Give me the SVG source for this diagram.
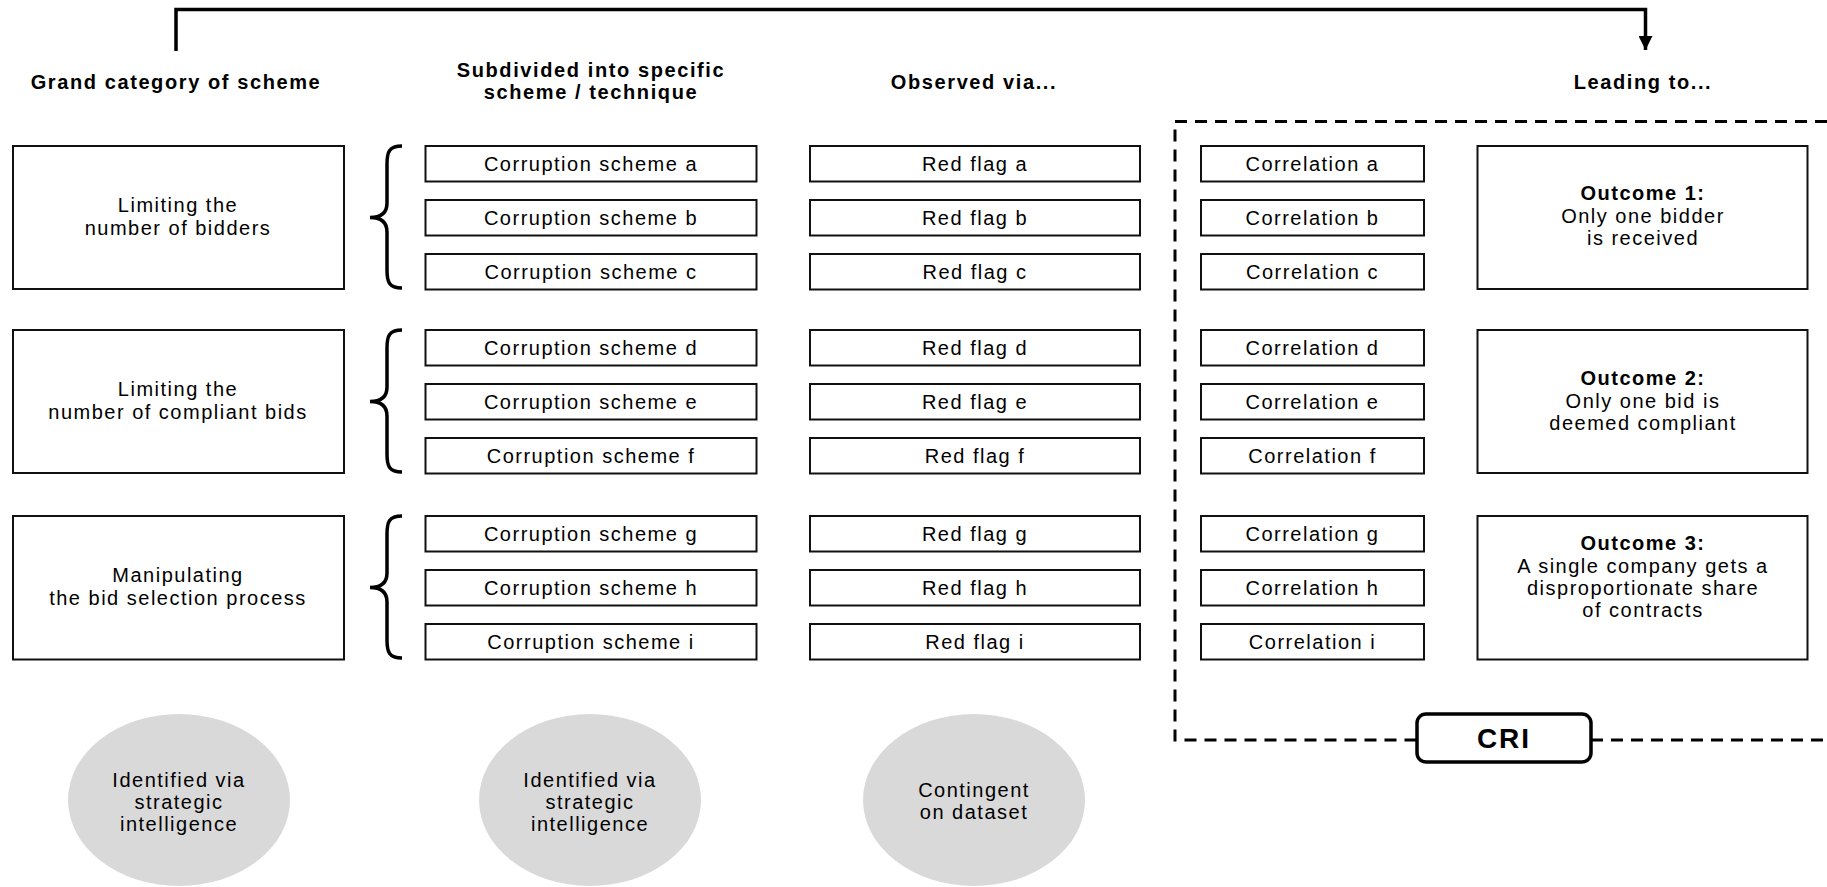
<svg xmlns="http://www.w3.org/2000/svg" width="1827" height="887" viewBox="0 0 1827 887">
<style>
text{font-family:"Liberation Sans",Arial,sans-serif;fill:#000;text-anchor:middle}
.t{font-size:20px;letter-spacing:1.5px}
.h{font-size:20px;font-weight:bold;letter-spacing:1.6px}
.b{font-weight:bold}
.box{fill:#fff;stroke:#111;stroke-width:2}
.br{fill:none;stroke:#000;stroke-width:3.5}
.ell{fill:#d9d9d9;stroke:none}
</style>
<defs>
<marker id="ah" viewBox="0 0 10 10" refX="10" refY="5" markerWidth="4" markerHeight="4" orient="auto" markerUnits="strokeWidth">
<path d="M0,0 L10,5 L0,10 z" fill="#000"/>
</marker>
</defs>
<rect width="1827" height="887" fill="#fff"/>

<g id="connectors">
<path d="M176,51 V9.5 H1645.5 V50" fill="none" stroke="#000" stroke-width="3.5" marker-end="url(#ah)"/>
<path id="cri-frame" d="M1827,121.5 H1175 V740 H1417 M1591,740 H1827" fill="none" stroke="#000" stroke-width="3" stroke-dasharray="12 8"/>
</g>

<g id="headers">
<text class="h" x="176" y="89">Grand category of scheme</text>
<text class="h" x="591" y="77">Subdivided into specific</text>
<text class="h" x="591" y="99">scheme / technique</text>
<text class="h" x="974" y="89">Observed via...</text>
<text class="h" x="1643" y="89">Leading to...</text>
</g>

<g id="cat1"><rect class="box" x="13" y="146" width="331" height="143"/>
<text class="t" x="178" y="212">Limiting the</text><text class="t" x="178" y="235">number of bidders</text></g>
<g id="cat2"><rect class="box" x="13" y="330" width="331" height="143"/>
<text class="t" x="178" y="396">Limiting the</text><text class="t" x="178" y="419">number of compliant bids</text></g>
<g id="cat3"><rect class="box" x="13" y="516" width="331" height="143.5"/>
<text class="t" x="178" y="582">Manipulating</text><text class="t" x="178" y="605">the bid selection process</text></g>

<g id="brackets">
<path class="br" d="M402,146 C389,146 387,152 387,164 V203 C387,213 381,217.5 370,217.5 C381,217.5 387,222 387,232 V270 C387,282 389,288 402,288"/>
<path class="br" d="M402,330 C389,330 387,336 387,348 V387 C387,397 381,401.5 370,401.5 C381,401.5 387,406 387,416 V454 C387,466 389,472 402,472"/>
<path class="br" d="M402,516 C389,516 387,522 387,534 V573 C387,583 381,587.5 370,587.5 C381,587.5 387,592 387,602 V640 C387,652 389,658 402,658"/>
</g>

<g id="scheme-a"><rect class="box" x="425.5" y="146" width="331" height="35.5"/><text class="t" x="591" y="171">Corruption scheme a</text></g>
<g id="scheme-b"><rect class="box" x="425.5" y="200" width="331" height="35.5"/><text class="t" x="591" y="225">Corruption scheme b</text></g>
<g id="scheme-c"><rect class="box" x="425.5" y="254" width="331" height="35.5"/><text class="t" x="591" y="279">Corruption scheme c</text></g>
<g id="scheme-d"><rect class="box" x="425.5" y="330" width="331" height="35.5"/><text class="t" x="591" y="355">Corruption scheme d</text></g>
<g id="scheme-e"><rect class="box" x="425.5" y="384" width="331" height="35.5"/><text class="t" x="591" y="409">Corruption scheme e</text></g>
<g id="scheme-f"><rect class="box" x="425.5" y="438" width="331" height="35.5"/><text class="t" x="591" y="463">Corruption scheme f</text></g>
<g id="scheme-g"><rect class="box" x="425.5" y="516" width="331" height="35.5"/><text class="t" x="591" y="541">Corruption scheme g</text></g>
<g id="scheme-h"><rect class="box" x="425.5" y="570" width="331" height="35.5"/><text class="t" x="591" y="595">Corruption scheme h</text></g>
<g id="scheme-i"><rect class="box" x="425.5" y="624" width="331" height="35.5"/><text class="t" x="591" y="649">Corruption scheme i</text></g>

<g id="flag-a"><rect class="box" x="810" y="146" width="330" height="35.5"/><text class="t" x="975" y="171">Red flag a</text></g>
<g id="flag-b"><rect class="box" x="810" y="200" width="330" height="35.5"/><text class="t" x="975" y="225">Red flag b</text></g>
<g id="flag-c"><rect class="box" x="810" y="254" width="330" height="35.5"/><text class="t" x="975" y="279">Red flag c</text></g>
<g id="flag-d"><rect class="box" x="810" y="330" width="330" height="35.5"/><text class="t" x="975" y="355">Red flag d</text></g>
<g id="flag-e"><rect class="box" x="810" y="384" width="330" height="35.5"/><text class="t" x="975" y="409">Red flag e</text></g>
<g id="flag-f"><rect class="box" x="810" y="438" width="330" height="35.5"/><text class="t" x="975" y="463">Red flag f</text></g>
<g id="flag-g"><rect class="box" x="810" y="516" width="330" height="35.5"/><text class="t" x="975" y="541">Red flag g</text></g>
<g id="flag-h"><rect class="box" x="810" y="570" width="330" height="35.5"/><text class="t" x="975" y="595">Red flag h</text></g>
<g id="flag-i"><rect class="box" x="810" y="624" width="330" height="35.5"/><text class="t" x="975" y="649">Red flag i</text></g>

<g id="corr-a"><rect class="box" x="1201" y="146" width="223" height="35.5"/><text class="t" x="1312.5" y="171">Correlation a</text></g>
<g id="corr-b"><rect class="box" x="1201" y="200" width="223" height="35.5"/><text class="t" x="1312.5" y="225">Correlation b</text></g>
<g id="corr-c"><rect class="box" x="1201" y="254" width="223" height="35.5"/><text class="t" x="1312.5" y="279">Correlation c</text></g>
<g id="corr-d"><rect class="box" x="1201" y="330" width="223" height="35.5"/><text class="t" x="1312.5" y="355">Correlation d</text></g>
<g id="corr-e"><rect class="box" x="1201" y="384" width="223" height="35.5"/><text class="t" x="1312.5" y="409">Correlation e</text></g>
<g id="corr-f"><rect class="box" x="1201" y="438" width="223" height="35.5"/><text class="t" x="1312.5" y="463">Correlation f</text></g>
<g id="corr-g"><rect class="box" x="1201" y="516" width="223" height="35.5"/><text class="t" x="1312.5" y="541">Correlation g</text></g>
<g id="corr-h"><rect class="box" x="1201" y="570" width="223" height="35.5"/><text class="t" x="1312.5" y="595">Correlation h</text></g>
<g id="corr-i"><rect class="box" x="1201" y="624" width="223" height="35.5"/><text class="t" x="1312.5" y="649">Correlation i</text></g>

<g id="outcome1"><rect class="box" x="1477.5" y="146" width="330" height="143"/>
<text class="t b" x="1643" y="200">Outcome 1:</text><text class="t" x="1643" y="223">Only one bidder</text><text class="t" x="1643" y="245">is received</text></g>
<g id="outcome2"><rect class="box" x="1477.5" y="330" width="330" height="143"/>
<text class="t b" x="1643" y="385">Outcome 2:</text><text class="t" x="1643" y="408">Only one bid is</text><text class="t" x="1643" y="430">deemed compliant</text></g>
<g id="outcome3"><rect class="box" x="1477.5" y="516" width="330" height="143.5"/>
<text class="t b" x="1643" y="550">Outcome 3:</text><text class="t" x="1643" y="573">A single company gets a</text><text class="t" x="1643" y="595">disproportionate share</text><text class="t" x="1643" y="617">of contracts</text></g>

<g id="cri"><rect x="1417" y="714" width="174" height="48" rx="9" fill="#fff" stroke="#000" stroke-width="3.5"/>
<text class="b" x="1504" y="748" style="font-size:28px;letter-spacing:2px">CRI</text></g>

<g id="note1"><ellipse class="ell" cx="179" cy="800" rx="111" ry="86"/>
<text class="t" x="179" y="787">Identified via</text><text class="t" x="179" y="809">strategic</text><text class="t" x="179" y="831">intelligence</text></g>
<g id="note2"><ellipse class="ell" cx="590" cy="800" rx="111" ry="86"/>
<text class="t" x="590" y="787">Identified via</text><text class="t" x="590" y="809">strategic</text><text class="t" x="590" y="831">intelligence</text></g>
<g id="note3"><ellipse class="ell" cx="974" cy="800" rx="111" ry="86"/>
<text class="t" x="974" y="797">Contingent</text><text class="t" x="974" y="819">on dataset</text></g>
</svg>
